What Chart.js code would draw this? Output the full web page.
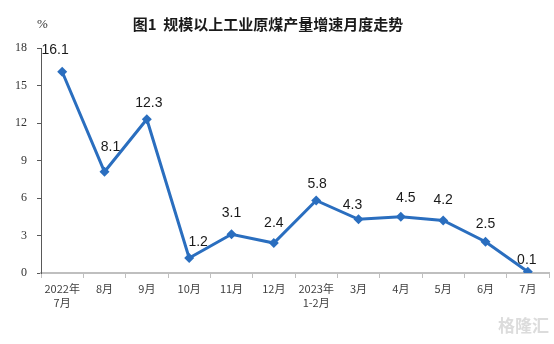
<!DOCTYPE html>
<html>
<head>
<meta charset="utf-8">
<script src="https://cdn.jsdelivr.net/npm/chart.js@4/dist/chart.umd.min.js"></script>
<style>
  html, body { margin: 0; padding: 0; background: #fff; }
  #wrap { width: 554px; height: 344px; position: relative; }
</style>
</head>
<body>
<div id="wrap"><canvas id="coalChart"></canvas></div>
<script>
const months = [
  ['2022年', '7月'], '8月', '9月', '10月', '11月', '12月',
  ['2023年', '1-2月'], '3月', '4月', '5月', '6月', '7月'
];
const growth = [16.1, 8.1, 12.3, 1.2, 3.1, 2.4, 5.8, 4.3, 4.5, 4.2, 2.5, 0.1];
const yTicks = [0, 3, 6, 9, 12, 15, 18];

const lineBlue = '#2a6ebf';

// hand-placed label nudges (dx, dy) so the numbers clear the line
const labelNudge = [
  [-7, -22], [6, -25], [2, -16], [9, -16], [0, -21], [0, -20],
  [1, -16], [-6, -14], [5, -19], [0, -20], [0, -18], [-1, -12]
];

// title, unit, value labels and watermark text
const labelPlugin = {
  id: 'pointLabels',
  afterDatasetsDraw(chart) {
    const ctx = chart.ctx;
    const meta = chart.getDatasetMeta(0);
    ctx.save();
    ctx.font = '14px "Liberation Sans", Arial, sans-serif';
    ctx.fillStyle = '#1a1a1a';
    ctx.textAlign = 'center';
    ctx.textBaseline = 'middle';
    meta.data.forEach((pt, i) => {
      const [dx, dy] = labelNudge[i];
      ctx.fillText(growth[i].toFixed(1), pt.x + dx, pt.y + dy);
    });

    ctx.font = 'bold 15px "Noto Sans CJK SC", sans-serif';
    ctx.fillText('图1  规模以上工业原煤产量增速月度走势', 268, 24);

    ctx.font = '13px "Liberation Serif", serif';
    ctx.fillStyle = '#333';
    ctx.textAlign = 'left';
    ctx.fillText('%', 37, 25);

    ctx.font = 'bold 17px "Noto Sans CJK SC", sans-serif';
    ctx.fillStyle = '#dcdcdc';
    ctx.textAlign = 'right';
    ctx.fillText('格隆汇', 549, 326);
    ctx.restore();
  }
};

new Chart(document.getElementById('coalChart').getContext('2d'), {
  type: 'line',
  data: {
    labels: months,
    datasets: [{
      data: growth,
      borderColor: lineBlue,
      backgroundColor: lineBlue,
      borderWidth: 3,
      pointStyle: 'rectRot',
      pointRadius: 5,
      pointBorderWidth: 0,
      tension: 0
    }]
  },
  options: {
    responsive: true,
    maintainAspectRatio: false,
    animation: false,
    layout: { padding: { left: 0, right: 0, top: 48, bottom: 0 } },
    plugins: {
      legend: { display: false },
      tooltip: { enabled: false },
      title: { display: false }
    },
    scales: {
      x: {
        offset: true,
        border: { color: '#bfbfbf', width: 2 },
        grid: { offset: true, drawOnChartArea: false, drawTicks: true, tickLength: 5, color: '#bfbfbf' },
        ticks: {
          color: '#404040',
          font: { family: '"Noto Sans CJK SC", sans-serif', size: 11, lineHeight: 1.25 },
          padding: 4,
          maxRotation: 0,
          autoSkip: false
        },
        afterFit(scale) { scale.height = 71; }
      },
      y: {
        min: yTicks[0],
        max: yTicks[yTicks.length - 1],
        border: { color: '#595959', width: 1 },
        grid: { drawOnChartArea: false, drawTicks: true, tickLength: 4, color: '#595959' },
        afterBuildTicks(scale) { scale.ticks = yTicks.map(v => ({ value: v })); },
        ticks: {
          color: '#333',
          font: { family: '"Liberation Serif", "Times New Roman", serif', size: 12 },
          padding: 10
        },
        afterFit(scale) { scale.width = 41; }
      }
    }
  },
  plugins: [labelPlugin]
});
</script>
</body>
</html>
